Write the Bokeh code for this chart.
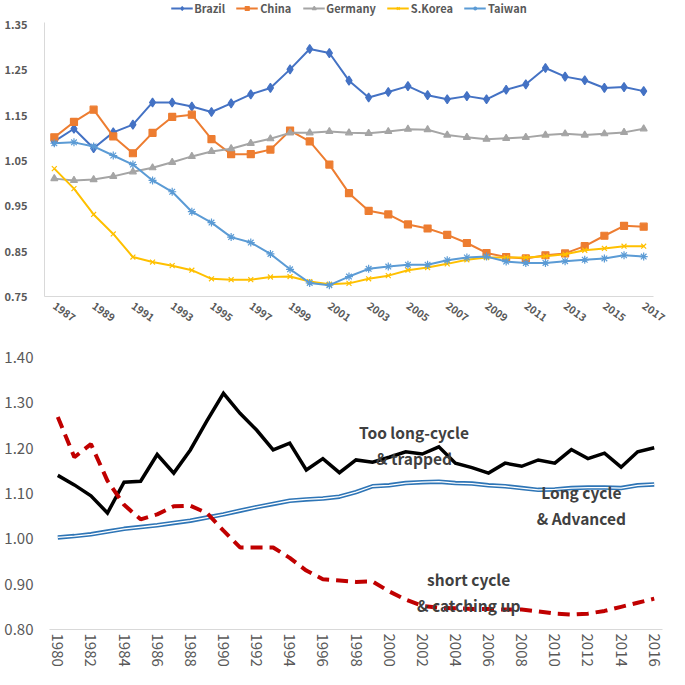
import math
from bokeh.plotting import figure
from bokeh.layouts import column
from bokeh.models import (Range1d, FixedTicker, NumeralTickFormatter, Legend,
                          LegendItem, Label)
from bokeh.embed import file_html
from bokeh.resources import INLINE

FONT = "Noto Sans CJK KR"

# ---------------- top chart data ----------------
years_top = list(range(1987, 2018))
brazil = [1.092, 1.120, 1.077, 1.112, 1.129, 1.178, 1.178, 1.169, 1.157, 1.176,
          1.196, 1.210, 1.251, 1.296, 1.287, 1.226, 1.189, 1.201, 1.214, 1.194,
          1.185, 1.192, 1.185, 1.206, 1.218, 1.254, 1.235, 1.227, 1.210, 1.212, 1.203]
china = [1.101, 1.135, 1.162, 1.103, 1.066, 1.111, 1.146, 1.151, 1.097, 1.064,
         1.064, 1.074, 1.116, 1.092, 1.041, 0.978, 0.939, 0.931, 0.909, 0.900,
         0.886, 0.868, 0.846, 0.837, 0.834, 0.841, 0.845, 0.861, 0.884, 0.906, 0.904]
germany = [1.010, 1.006, 1.008, 1.015, 1.025, 1.034, 1.046, 1.059, 1.070, 1.076,
           1.088, 1.098, 1.111, 1.111, 1.114, 1.111, 1.110, 1.114, 1.119, 1.118,
           1.106, 1.101, 1.097, 1.099, 1.101, 1.106, 1.109, 1.106, 1.109, 1.112, 1.120]
skorea = [1.032, 0.988, 0.931, 0.888, 0.837, 0.826, 0.818, 0.808, 0.789, 0.787,
          0.787, 0.793, 0.794, 0.783, 0.777, 0.779, 0.789, 0.796, 0.808, 0.814,
          0.822, 0.831, 0.836, 0.836, 0.836, 0.839, 0.843, 0.852, 0.856, 0.861, 0.861]
taiwan = [1.088, 1.090, 1.081, 1.061, 1.041, 1.006, 0.981, 0.937, 0.913, 0.881,
          0.869, 0.844, 0.810, 0.780, 0.775, 0.794, 0.811, 0.816, 0.820, 0.820,
          0.830, 0.836, 0.838, 0.827, 0.824, 0.824, 0.828, 0.831, 0.834, 0.841, 0.838]
top_yticks = [0.75, 0.85, 0.95, 1.05, 1.15, 1.25, 1.35]
top_xticks = list(range(1987, 2018, 2))

# ---------------- bottom chart data ----------------
years_bot = list(range(1980, 2017))
trapped = [1.140, 1.119, 1.095, 1.057, 1.125, 1.127, 1.186, 1.145, 1.196, 1.260,
           1.321, 1.277, 1.240, 1.196, 1.211, 1.152, 1.177, 1.146, 1.174, 1.169,
           1.180, 1.192, 1.187, 1.203, 1.167, 1.157, 1.145, 1.167, 1.160, 1.174,
           1.167, 1.197, 1.177, 1.189, 1.158, 1.192, 1.201]
catching = [1.269, 1.180, 1.209, 1.128, 1.075, 1.043, 1.054, 1.072, 1.073, 1.057,
            1.018, 0.981, 0.981, 0.981, 0.958, 0.930, 0.911, 0.908, 0.905, 0.906,
            0.884, 0.866, 0.852, 0.848, 0.847, 0.845, 0.845, 0.844, 0.844, 0.840,
            0.835, 0.833, 0.835, 0.841, 0.850, 0.859, 0.868]
advanced = [1.003, 1.006, 1.010, 1.016, 1.022, 1.026, 1.030, 1.035, 1.040, 1.047,
            1.054, 1.062, 1.070, 1.077, 1.084, 1.087, 1.089, 1.093, 1.103, 1.116,
            1.118, 1.123, 1.125, 1.126, 1.123, 1.122, 1.118, 1.116, 1.112, 1.108,
            1.109, 1.112, 1.113, 1.113, 1.112, 1.118, 1.120]
bot_yticks = [0.80, 0.90, 1.00, 1.10, 1.20, 1.30, 1.40]
bot_xticks = list(range(1980, 2017, 2))

GREY_TXT = "#595959"
AXIS_GREY = "#D9D9D9"

# ================= top figure =================
# extra headroom above 1.35 holds the legend (axis line bounded to 0.75..1.35)
p1 = figure(width=669, height=334, output_backend="svg", toolbar_location=None,
            x_range=Range1d(1986.5, 2017.5), y_range=Range1d(0.75, 1.4029),
            min_border_left=44, min_border_right=16, min_border_top=0,
            min_border_bottom=38, frame_align=False)
p1.outline_line_color = None
p1.xgrid.visible = False
p1.ygrid.visible = False
p1.background_fill_color = "white"

series = [
    ("Brazil", brazil, "#4472C4", "diamond", 9),
    ("China", china, "#ED7D31", "square", 7),
    ("Germany", germany, "#A5A5A5", "triangle", 7),
    ("S.Korea", skorea, "#FFC000", "x", 7),
    ("Taiwan", taiwan, "#5B9BD5", "asterisk", 8),
]
items = []
for name, vals, col, mk, sz in series:
    ln = p1.line(years_top, vals, line_color=col, line_width=2)
    sc = p1.scatter(years_top, vals, marker=mk, size=sz, fill_color=col,
                    line_color=col, line_width=1.2)
    items.append(LegendItem(label=name, renderers=[ln, sc]))

legend = Legend(items=items, orientation="horizontal", location="top_center",
                glyph_width=22, glyph_height=10, label_standoff=2, spacing=11,
                padding=0, margin=0, border_line_color=None,
                background_fill_alpha=0, label_text_font=FONT,
                label_text_font_size="11px", label_text_font_style="bold",
                label_text_color=GREY_TXT, label_height=12)
p1.add_layout(legend, "center")

p1.yaxis.ticker = FixedTicker(ticks=top_yticks)
p1.yaxis.formatter = NumeralTickFormatter(format="0.00")
p1.yaxis.bounds = (0.75, 1.355)
p1.xaxis.ticker = FixedTicker(ticks=top_xticks)
for ax in (p1.xaxis, p1.yaxis):
    ax.axis_line_color = AXIS_GREY
    ax.axis_line_width = 1
    ax.major_tick_line_color = None
    ax.minor_tick_line_color = None
    ax.major_tick_out = 0
    ax.major_tick_in = 0
    ax.major_label_text_font = FONT
    ax.major_label_text_font_size = "11px"
    ax.major_label_text_font_style = "bold"
    ax.major_label_text_color = GREY_TXT
p1.xaxis.major_label_text_font_size = "10.5px"
p1.yaxis.major_label_standoff = 17
p1.xaxis.major_label_standoff = 8
p1.xaxis.major_label_orientation = -0.62

# ================= bottom figure =================
p2 = figure(width=669, height=335, output_backend="svg", toolbar_location=None,
            x_range=Range1d(1979.5, 2016.5), y_range=Range1d(0.80, 1.40),
            min_border_left=49, min_border_right=7, min_border_top=23,
            min_border_bottom=38, frame_align=False)
p2.outline_line_color = None
p2.xgrid.visible = False
p2.ygrid.visible = False

p2.line(years_bot, advanced, line_color="#2E75B6", line_width=4.5)
p2.line(years_bot, advanced, line_color="white", line_width=1.3)
p2.line(years_bot, trapped, line_color="black", line_width=3.5, line_join="miter")
p2.line(years_bot, catching, line_color="#C00000", line_width=4,
        line_dash="12 7")

p2.yaxis.ticker = FixedTicker(ticks=bot_yticks)
p2.yaxis.formatter = NumeralTickFormatter(format="0.00")
p2.xaxis.ticker = FixedTicker(ticks=bot_xticks)
for ax in (p2.xaxis, p2.yaxis):
    ax.major_tick_line_color = None
    ax.minor_tick_line_color = None
    ax.major_tick_out = 0
    ax.major_tick_in = 0
    ax.major_label_text_font = FONT
    ax.major_label_text_font_size = "15px"
    ax.major_label_text_color = GREY_TXT
p2.xaxis.axis_line_color = AXIS_GREY
p2.yaxis.axis_line_color = None
p2.yaxis.major_label_standoff = 16
p2.xaxis.major_label_standoff = 4
p2.xaxis.major_label_orientation = -math.pi / 2

annots = [
    ("Too long-cycle", 2001.5, 1.235),
    ("& trapped", 2001.5, 1.179),
    ("Long cycle", 2011.6, 1.103),
    ("& Advanced", 2011.6, 1.047),
    ("short cycle", 2004.8, 0.912),
    ("& catching up", 2004.8, 0.854),
]
for txt, x, y in annots:
    p2.add_layout(Label(x=x, y=y, text=txt, text_align="center",
                        text_baseline="middle", text_font=FONT,
                        text_font_size="15.5px", text_font_style="bold",
                        text_color="#404040"))

layout = column(p1, p2, spacing=0)
open("out.html", "w").write(file_html(layout, INLINE))
